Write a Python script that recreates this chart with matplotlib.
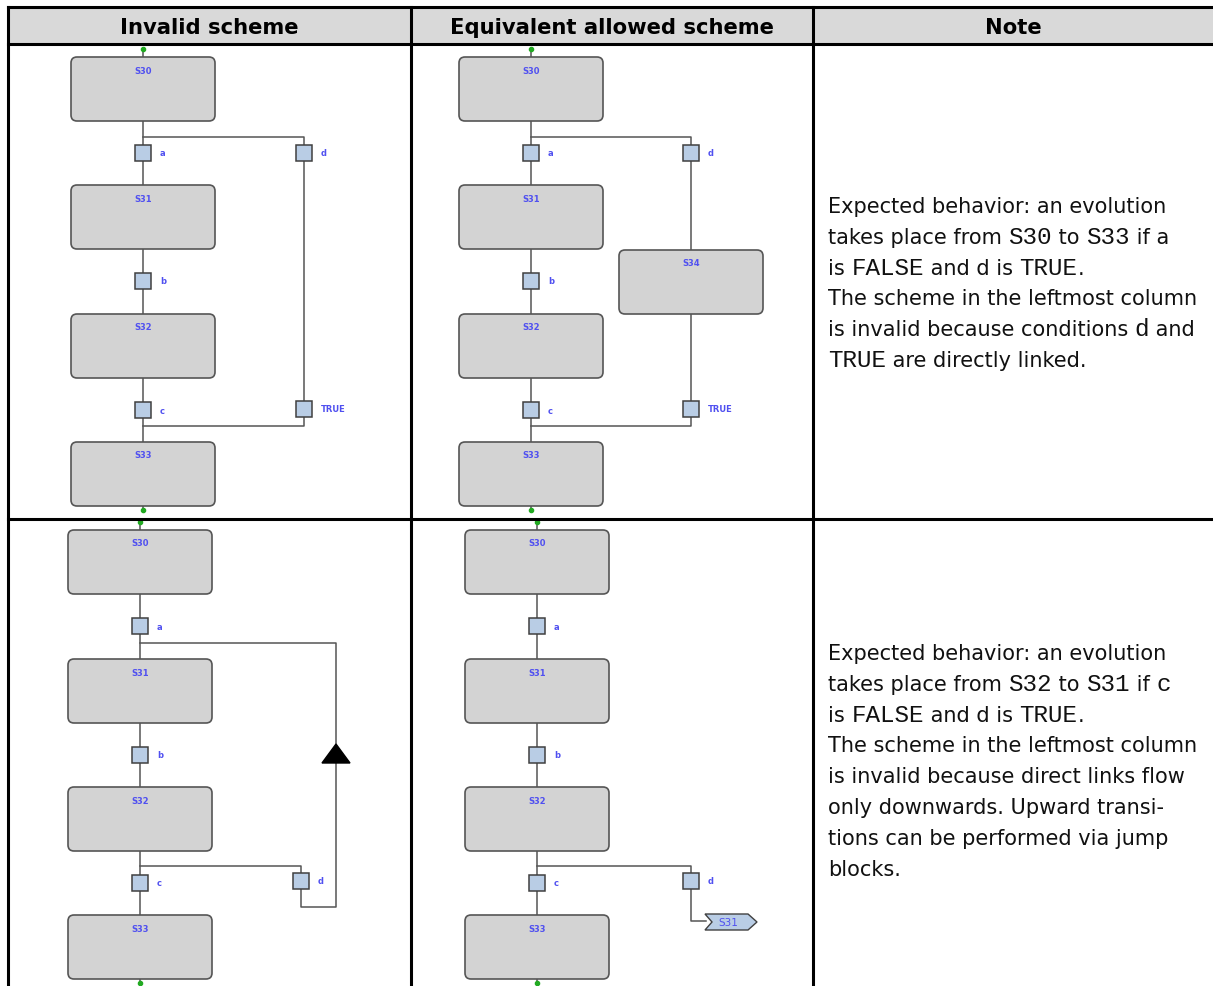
import matplotlib.pyplot as plt
from matplotlib.patches import FancyBboxPatch, Rectangle, Polygon

# contenuto della tabella
headers = ['Invalid scheme', 'Equivalent allowed scheme', 'Note']
steps = ['S30', 'S31', 'S32', 'S33']
conds = ['a', 'b', 'c']
side_cond = 'd'
side_true = 'TRUE'
extra_step = 'S34'
jump_target = 'S31'

# note: (testo, monospazio?)
note1 = [
    [('Expected behavior: an evolution', False)],
    [('takes place from ', False), ('S30', True), (' to ', False), ('S33', True), (' if a', False)],
    [('is ', False), ('FALSE', True), (' and d is ', False), ('TRUE', True), ('.', False)],
    [('The scheme in the leftmost column', False)],
    [('is invalid because conditions ', False), ('d', True), (' and', False)],
    [('TRUE', True), (' are directly linked.', False)],
]
note2 = [
    [('Expected behavior: an evolution', False)],
    [('takes place from ', False), ('S32', True), (' to ', False), ('S31', True), (' if ', False), ('c', True)],
    [('is ', False), ('FALSE', True), (' and d is ', False), ('TRUE', True), ('.', False)],
    [('The scheme in the leftmost column', False)],
    [('is invalid because direct links flow', False)],
    [('only downwards. Upward transi-', False)],
    [('tions can be performed via jump', False)],
    [('blocks.', False)],
]

W, H = 1213, 987
fig = plt.figure(figsize=(W / 100, H / 100), dpi=100)
ax = fig.add_axes([0, 0, 1, 1])
ax.set_xlim(0, W)
ax.set_ylim(H, 0)
ax.axis('off')

LINE = '#555555'
BLUE = '#5050f0'
SQ = '#b9cde5'
BW, BH = 144, 64


def step(cx, top, name):
    ax.add_patch(FancyBboxPatch((cx - BW / 2, top), BW, BH,
                                boxstyle='round,pad=0,rounding_size=6',
                                fc='#d3d3d3', ec=LINE, lw=1.2, zorder=3))
    ax.text(cx, top + 13, name, color=BLUE, fontsize=6, fontweight='bold',
            ha='center', va='center', zorder=4)


def cond(cx, cy, label):
    ax.add_patch(Rectangle((cx - 8, cy - 8), 16, 16, fc=SQ, ec='#404040',
                           lw=1.1, zorder=3))
    ax.text(cx + 17, cy, label, color=BLUE, fontsize=6, fontweight='bold',
            ha='left', va='center', zorder=4)


def sequence(cx, tops):
    ax.plot([cx, cx], [tops[0] - 8, tops[-1] + BH + 4], color=LINE, lw=1.1, zorder=1)
    ax.plot([cx, cx], [tops[0] - 8, tops[-1] + BH + 4], 'o', color='#22aa22',
            ms=3, zorder=5)
    for name, top in zip(steps, tops):
        step(cx, top, name)
    for i, c in enumerate(conds):
        cond(cx, tops[i] + BH + 32, c)


def path(pts):
    ax.plot([p[0] for p in pts], [p[1] for p in pts], color=LINE, lw=1.1, zorder=1)


# tabella
ax.add_patch(Rectangle((8, 8), W, 37, fc='#d9d9d9', ec='none', zorder=0))
for y in (8, 45, 520):
    ax.plot([8, W], [y, y], color='black', lw=2.2, zorder=6)
for x in (8, 411, 813):
    ax.plot([x, x], [8, H], color='black', lw=2.2, zorder=6)
for (x0, x1), h in zip([(8, 411), (411, 813), (813, W)], headers):
    ax.text((x0 + x1) / 2, 28, h, fontsize=15.2, fontweight='bold',
            ha='center', va='center', family='DejaVu Sans')

# riga 1, schema non valido
tops1 = [58, 186, 315, 443]
sequence(143, tops1)
path([(143, 138), (304, 138), (304, 427), (143, 427)])
cond(304, 154, side_cond)
cond(304, 410, side_true)

# riga 1, schema equivalente
sequence(531, tops1)
path([(531, 138), (691, 138), (691, 427), (531, 427)])
cond(691, 154, side_cond)
step(691, 251, extra_step)
cond(691, 410, side_true)

# riga 2, schema non valido
tops2 = [531, 660, 788, 916]
sequence(140, tops2)
path([(140, 644), (336, 644), (336, 908), (301, 908), (301, 867), (140, 867)])
cond(301, 882, side_cond)
ax.add_patch(Polygon([(322, 764), (350, 764), (336, 745)], closed=True,
                     fc='black', ec='black', zorder=3))

# riga 2, schema equivalente
sequence(537, tops2)
path([(537, 867), (691, 867), (691, 922), (706, 922)])
cond(691, 882, side_cond)
ax.add_patch(Polygon([(705, 915), (748, 915), (757, 923), (748, 931), (705, 931), (712, 923)],
                     closed=True, fc=SQ, ec='#404040', lw=1.0, zorder=3))
ax.text(728, 923, jump_target, color=BLUE, fontsize=7.5, ha='center',
        va='center', zorder=4)

# note con font misti
fig.canvas.draw()
renderer = fig.canvas.get_renderer()
inv = ax.transData.inverted()


def note(lines, x0, y0, dy=30.8):
    for i, runs in enumerate(lines):
        x = x0
        y = y0 + i * dy
        for txt, mono in runs:
            t = ax.text(x, y, txt, fontsize=17.5 if mono else 15.0,
                        ha='left', va='baseline',
                        family='Liberation Mono' if mono else 'DejaVu Sans',
                        color='#111111')
            bb = t.get_window_extent(renderer)
            x = inv.transform((bb.x1, bb.y0))[0]


note(note1, 828, 213)
note(note2, 828, 660)

fig.savefig('out.png', dpi=100)
